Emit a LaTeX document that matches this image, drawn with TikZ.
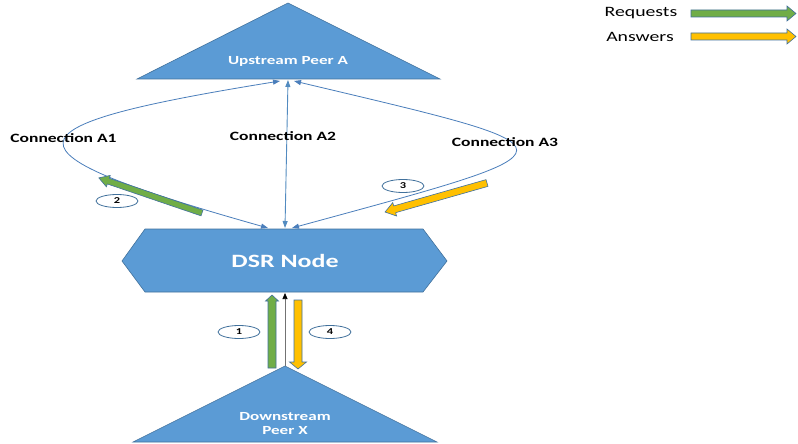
\documentclass[tikz,border=0pt]{standalone}
\usepackage{fontspec}
\setmainfont{Carlito}[FakeStretch=1.38]
\usetikzlibrary{arrows.meta,shapes.geometric}
\definecolor{fillblue}{HTML}{5B9BD5}
\definecolor{edgeblue}{HTML}{41719C}
\definecolor{linkblue}{HTML}{4A7EBB}
\definecolor{reqgreen}{HTML}{70AD47}
\definecolor{ansyellow}{HTML}{FFC000}
% style, tail, angle, length, shaft half width, head half width, head length
\newcommand{\blockarrow}[7]{%
  \begin{scope}[shift={#2},rotate=#3]
    \draw[#1] (0,-#5) -- ({#4-#7},-#5) -- ({#4-#7},-#6) -- (#4,0) -- ({#4-#7},#6) -- ({#4-#7},#5) -- (0,#5) -- cycle;
  \end{scope}}
\begin{document}
\begin{tikzpicture}[x=1pt,y=-1pt,
  peer/.style={fill=fillblue,draw=edgeblue,line width=0.6pt},
  peerlabel/.style={text=white,font=\bfseries\fontsize{12.4}{14}\selectfont,inner sep=0,anchor=base},
  conlabel/.style={text=black,font=\bfseries\fontsize{12.7}{14}\selectfont,inner sep=0,anchor=base},
  legendlabel/.style={text=black,font=\fontsize{14.3}{16}\selectfont,inner sep=0,anchor=base},
  link/.style={draw=linkblue,line width=0.8pt,{Triangle[length=7pt,width=5pt]}-{Triangle[length=7pt,width=5pt]}},
  linklight/.style={draw=fillblue!90!black,line width=0.9pt,{Triangle[length=7pt,width=5pt]}-{Triangle[length=7pt,width=5pt]}},
  reqarrow/.style={fill=reqgreen,draw=edgeblue,line width=0.6pt},
  ansarrow/.style={fill=ansyellow,draw=edgeblue,line width=0.6pt},
  stepnum/.style={ellipse,draw=edgeblue,fill=white,line width=0.8pt,minimum width=42pt,minimum height=13pt,inner sep=0,font=\bfseries\fontsize{9}{10}\selectfont}]
\useasboundingbox (0,0) rectangle (798,444);
\fill[white] (0,0) rectangle (798,444);

% shapes
\draw[peer] (288,3) -- (440,79) -- (137,79) -- cycle;
\draw[peer] (145,229) -- (423,229) -- (447,261) -- (423,292) -- (145,292) -- (122,261) -- cycle;
\draw[peer] (285,366) -- (437,442) -- (133,442) -- cycle;

\node[peerlabel] (uplabel) at (288,65) {Upstream Peer A};
\node[text=white,font=\bfseries\fontsize{18.8}{20}\selectfont,inner sep=0,anchor=base] (dsrlabel) at (285,267) {DSR Node};
\node[peerlabel] (dnlabel1) at (285,420) {Downstream};
\node[peerlabel] (dnlabel2) at (285,434) {Peer X};

% connector end points
\coordinate (upA1) at (280,81);
\coordinate (upA2) at (288,80);
\coordinate (upA3) at (294,81);
\coordinate (dsrA1) at (268,228);
\coordinate (dsrA2) at (285,228);
\coordinate (dsrA3) at (292,228);
\coordinate (dsrIn) at (285,293);
\coordinate (dnTip) at (285,366);

% connections
\draw[link] (dsrA1) .. controls (-5,151) and (-5,127) .. (upA1);
\draw[linklight] (dsrA2) -- (upA2);
\draw[link] (dsrA3) .. controls (589,147) and (589,151) .. (upA3);
\draw[line width=0.7pt,black!55,-{Triangle[black,length=6pt,width=5pt]}] (dnTip) -- (dsrIn);

\node[conlabel] (conA1) at (63.5,142) {Connection A1};
\node[conlabel] (conA2) at (283,140) {Connection A2};
\node[conlabel] (conA3) at (505,146) {Connection A3};

% block arrows
\blockarrow{reqarrow}{(202,213)}{161.2}{109}{3}{6}{10}
\blockarrow{ansarrow}{(487,183)}{195.9}{106}{3.5}{7}{10}
\blockarrow{reqarrow}{(272,368)}{90}{73}{4}{6.5}{6}
\blockarrow{ansarrow}{(298,300)}{270}{69}{4}{8.5}{7}

% step numbers
\node[stepnum] (s1) at (239,332) {1};
\node[stepnum] (s2) at (117,201) {2};
\node[stepnum] (s3) at (403,186) {3};
\node[stepnum] (s4) at (330,332) {4};

% legend
\node[legendlabel] (lreq) at (641,17) {Requests};
\node[legendlabel] (lans) at (640,42) {Answers};
\blockarrow{reqarrow}{(691,13.5)}{0}{105}{3.5}{7.5}{9}
\blockarrow{ansarrow}{(691,36.5)}{0}{105}{3.5}{7.5}{9}
\end{tikzpicture}
\end{document}
